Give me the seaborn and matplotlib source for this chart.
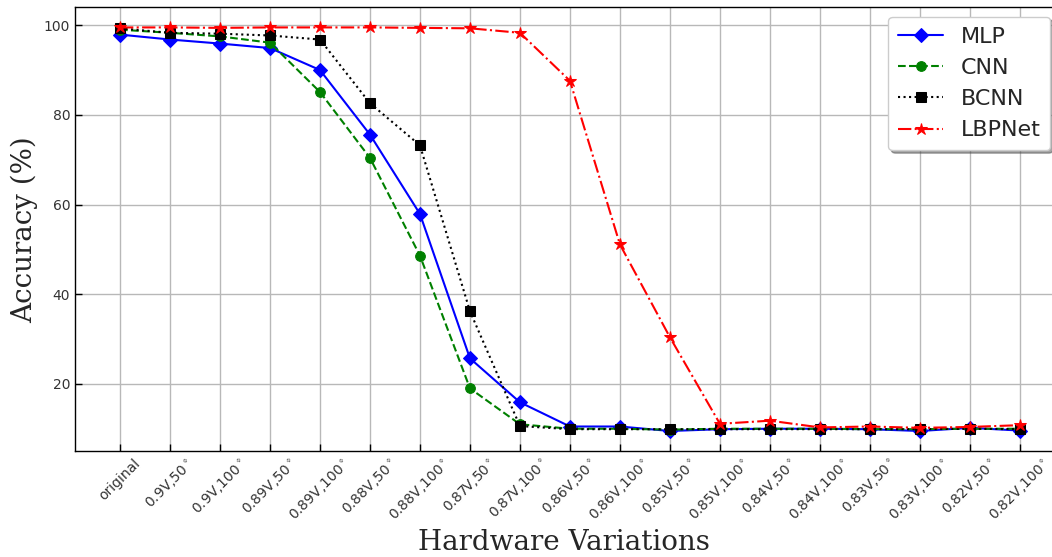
import matplotlib
matplotlib.use("Agg")
import matplotlib.pyplot as plt
import seaborn as sns
import numpy as np
import pandas as pd

categories = ["original", "0.9V,50$^\\circ$", "0.9V,100$^\\circ$", "0.89V,50$^\\circ$", "0.89V,100$^\\circ$",
              "0.88V,50$^\\circ$", "0.88V,100$^\\circ$", "0.87V,50$^\\circ$", "0.87V,100$^\\circ$",
              "0.86V,50$^\\circ$", "0.86V,100$^\\circ$", "0.85V,50$^\\circ$", "0.85V,100$^\\circ$",
              "0.84V,50$^\\circ$", "0.84V,100$^\\circ$", "0.83V,50$^\\circ$", "0.83V,100$^\\circ$",
              "0.82V,50$^\\circ$", "0.82V,100$^\\circ$"]

mlp = [97.9, 96.8, 95.9, 94.9, 90.0, 75.6, 57.9, 25.7, 15.9, 10.5, 10.5, 9.5, 9.9, 10.0, 10.0, 9.9, 9.5, 10.2, 9.6]
cnn = [99.0, 98.3, 97.5, 96.1, 85.1, 70.4, 48.6, 19.0, 11.0, 10.0, 10.0, 9.8, 10.0, 10.0, 10.0, 9.9, 9.9, 10.0, 10.0]
bcnn = [99.3, 98.3, 98.1, 97.7, 96.8, 82.6, 73.2, 36.2, 10.6, 9.9, 9.9, 9.9, 9.9, 9.9, 9.9, 9.9, 9.9, 10.0, 9.9]
lbpnet = [99.5, 99.5, 99.4, 99.5, 99.5, 99.5, 99.4, 99.3, 98.3, 87.6, 51.1, 30.4, 11.1, 11.8, 10.3, 10.5, 10.2, 10.4, 10.8]

series_names = ["MLP", "CNN", "BCNN", "LBPNet"]
series_values = [mlp, cnn, bcnn, lbpnet]
colors = ["blue", "green", "black", "red"]
markers = ["D", "o", "s", "*"]
linestyles = ["-", "--", ":", "-."]
msizes = [7, 7, 7, 9]

sns.set_style("whitegrid")
plt.rcParams.update({
    "xtick.direction": "in", "ytick.direction": "in",
    "axes.edgecolor": "black", "grid.color": "#b8b8b8", "grid.linewidth": 1.0,
    "xtick.color": "#333333", "ytick.color": "#333333",
})
plt.rcParams["font.family"] = ["DejaVu Sans"]

fig = plt.figure(figsize=(10.52, 5.57), dpi=100)
ax = fig.add_axes([0.0713, 0.19, 0.93, 0.797])

x = np.arange(len(categories))
for name, vals, c, m, ls, ms in zip(series_names, series_values, colors, markers, linestyles, msizes):
    df = pd.DataFrame({"x": x, "y": vals})
    sns.lineplot(data=df, x="x", y="y", ax=ax, color=c, marker=m, linestyle=ls,
                 markersize=ms, markeredgecolor=c, linewidth=1.5, label=name, sort=False)

ax.set_xticks(x)
ax.set_xticklabels(categories, rotation=45, ha="center", fontsize=10)
ax.set_yticks([20, 40, 60, 80, 100])
ax.tick_params(axis="y", labelsize=10)
ax.tick_params(axis="both", which="both", length=5, width=1, color="black",
               bottom=True, left=True, top=False, right=False)
ax.set_xlim(-0.9, 18.67)
ax.set_ylim(5, 104)
ax.set_xlabel("Hardware Variations", family="DejaVu Serif", fontsize=20)
ax.set_ylabel("Accuracy (%)", family="DejaVu Serif", fontsize=20)
for s in ax.spines.values():
    s.set_color("black")
    s.set_linewidth(1.0)

leg = ax.legend(loc="upper right", bbox_to_anchor=(0.997, 0.978), borderaxespad=0, fontsize=16,
                frameon=True, shadow=True, fancybox=True, handlelength=2.0, borderpad=0.45,
                labelspacing=0.5, handletextpad=0.8)
leg.get_frame().set_edgecolor("#cccccc")
leg.get_frame().set_facecolor("white")
leg.get_frame().set_alpha(1.0)

fig.savefig("out.png", dpi=100)
